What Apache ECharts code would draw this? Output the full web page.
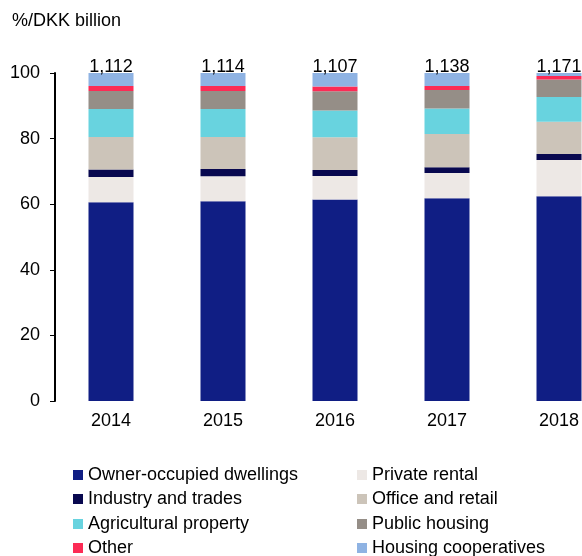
<!DOCTYPE html>
<html>
<head>
<meta charset="utf-8">
<script src="https://cdn.jsdelivr.net/npm/echarts@6/dist/echarts.min.js"></script>
<style>
  html, body { margin: 0; padding: 0; background: #fff; }
  #main-chart { width: 582px; height: 556px; }
</style>
</head>
<body>
<div id="main-chart"></div>
<script>
var years = ['2014', '2015', '2016', '2017', '2018'];
var totals = ['1,112', '1,114', '1,107', '1,138', '1,171'];

var ownerOccupied = [60.6, 60.9, 61.4, 61.8, 62.4];
var privateRental = [7.7, 7.6, 7.2, 7.7, 11.1];
var industry = [2.3, 2.2, 1.8, 1.8, 1.8];
var officeRetail = [9.9, 9.8, 10.0, 10.1, 9.8];
var agricultural = [8.5, 8.5, 8.2, 7.8, 7.6];
var publicHousing = [5.5, 5.5, 5.8, 5.6, 5.3];
var other = [1.5, 1.5, 1.5, 1.2, 1.1];
var cooperatives = [4.0, 4.0, 4.1, 4.0, 0.9];

var font = 'Liberation Sans, Arial, sans-serif';

var dom = document.getElementById('main-chart');
var myChart = echarts.init(dom);

function bar(name, data, color) {
    return {
        name: name,
        type: 'bar',
        stack: 'total',
        barWidth: 45,
        data: data,
        itemStyle: {color: color}
    };
}

var series = [
    bar('Owner-occupied dwellings', ownerOccupied, '#101E84'),
    bar('Private rental', privateRental, '#EDE8E5'),
    bar('Industry and trades', industry, '#08084F'),
    bar('Office and retail', officeRetail, '#CCC4B9'),
    bar('Agricultural property', agricultural, '#68D3DF'),
    bar('Public housing', publicHousing, '#958E87'),
    bar('Other', other, '#FC2B55'),
    bar('Housing cooperatives', cooperatives, '#8FB3E3')
];
// totals on top of the last stack
series[7].label = {
    show: true,
    position: 'top',
    distance: -3,
    color: '#000',
    fontSize: 18,
    fontFamily: font,
    formatter: function (p) { return totals[p.dataIndex]; }
};

// two legend columns, one legend per item so nothing wraps
var legendLeft = ['Owner-occupied dwellings', 'Industry and trades', 'Agricultural property', 'Other'];
var legendRight = ['Private rental', 'Office and retail', 'Public housing', 'Housing cooperatives'];
var rowTops = [466, 490, 515, 539];
var legends = [];
for (var i = 0; i < 4; i++) {
    [[legendLeft[i], 73], [legendRight[i], 357]].forEach(function (it) {
        legends.push({
            left: it[1],
            top: rowTops[i],
            padding: 0,
            itemWidth: 10,
            itemHeight: 10,
            icon: 'rect',
            textStyle: {color: '#000', fontSize: 18, fontFamily: font},
            data: [it[0]]
        });
    });
}

option = {
    animation: false,
    title: {
        text: '%/DKK billion',
        left: 12,
        top: 12,
        padding: 0,
        textStyle: {color: '#000', fontSize: 18, fontWeight: 'normal', fontFamily: font}
    },
    legend: legends,
    // last category runs past the right edge, as in the original
    grid: {left: 55, width: 560, top: 73, bottom: 155, outerBoundsMode: 'none', containLabel: false},
    xAxis: {
        type: 'category',
        data: years,
        axisLine: {show: false},
        axisTick: {show: false},
        axisLabel: {color: '#000', fontSize: 18, fontFamily: font, margin: 11}
    },
    yAxis: {
        type: 'value',
        min: 0,
        max: 100,
        interval: 20,
        axisLine: {show: true, lineStyle: {color: '#000', width: 2}},
        axisTick: {show: true, length: 5, lineStyle: {color: '#000', width: 1}},
        splitLine: {show: false},
        axisLabel: {color: '#000', fontSize: 18, fontFamily: font, margin: 15}
    },
    series: series
};
myChart.setOption(option, true);
</script>
</body>
</html>
